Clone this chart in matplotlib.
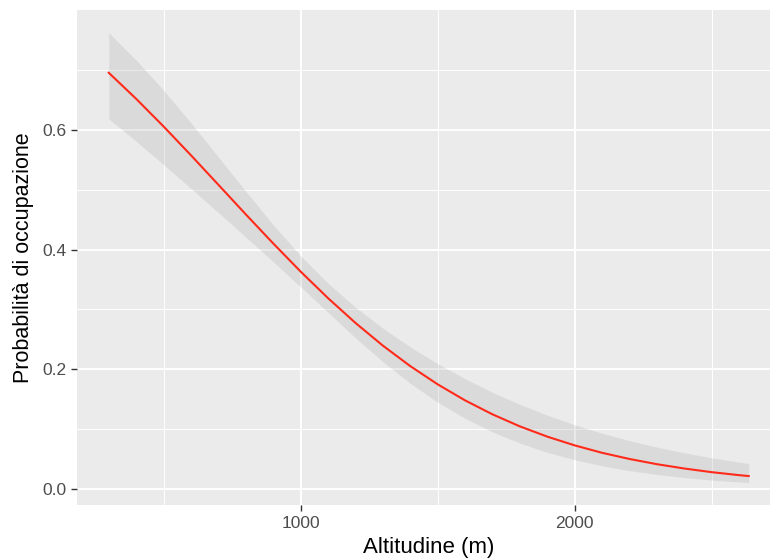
import numpy as np
import matplotlib
matplotlib.use('Agg')
import matplotlib.pyplot as plt
from matplotlib.ticker import MultipleLocator, FormatStrFormatter

plt.rcParams['font.family'] = ['Liberation Sans', 'DejaVu Sans']

# values
altitudine = [300, 400, 500, 600, 700, 800, 900, 1000, 1100, 1200, 1300, 1400,
              1500, 1600, 1700, 1800, 1900, 2000, 2100, 2200, 2300, 2400, 2500,
              2600, 2635]
prob = [0.695, 0.6515, 0.6054, 0.5573, 0.5081, 0.4587, 0.4102, 0.3633, 0.3189,
        0.2776, 0.2397, 0.2055, 0.1751, 0.1483, 0.1250, 0.1049, 0.0878, 0.0732,
        0.0608, 0.0505, 0.0418, 0.0346, 0.0285, 0.0235, 0.0220]
upper = [0.762, 0.7162, 0.6657, 0.6114, 0.5544, 0.4972, 0.4413, 0.3896, 0.3437,
         0.3038, 0.2689, 0.2375, 0.2096, 0.1844, 0.1617, 0.1416, 0.1236, 0.1075,
         0.0935, 0.0811, 0.0702, 0.0607, 0.0524, 0.0452, 0.0429]
lower = [0.618, 0.5807, 0.5417, 0.5018, 0.4617, 0.4208, 0.3797, 0.3378, 0.2951,
         0.2527, 0.2128, 0.1768, 0.1452, 0.1183, 0.0957, 0.0770, 0.0616, 0.0492,
         0.0391, 0.0310, 0.0246, 0.0194, 0.0153, 0.0121, 0.0111]

fig = plt.figure(figsize=(7.7, 5.6), dpi=100)
ax = fig.add_axes([0.0996, 0.098, 0.9144, 0.884])
ax.set_facecolor('#EBEBEB')
for s in ax.spines.values():
    s.set_visible(False)

ax.fill_between(altitudine, lower, upper, color='#999999', alpha=0.2, linewidth=0, zorder=2)
ax.plot(altitudine, prob, color='#FF2A1A', linewidth=1.5, zorder=3)

ax.set_xlim(183, 2752)
ax.set_ylim(-0.0265, 0.7996)
ax.xaxis.set_major_locator(MultipleLocator(1000))
ax.xaxis.set_minor_locator(MultipleLocator(500))
ax.yaxis.set_major_locator(MultipleLocator(0.2))
ax.yaxis.set_minor_locator(MultipleLocator(0.1))
ax.yaxis.set_major_formatter(FormatStrFormatter('%.1f'))

ax.grid(which='major', color='white', linewidth=1.4, zorder=0)
ax.grid(which='minor', color='white', linewidth=0.7, zorder=0)
ax.set_axisbelow(True)
ax.tick_params(which='major', length=4.5, width=1.0, color='#333333',
               labelcolor='#4D4D4D', labelsize=12.5, pad=3)
ax.tick_params(which='minor', length=0)

ax.set_xlabel('Altitudine (m)', fontsize=16, color='black', labelpad=5)
ax.set_ylabel('Probabilità di occupazione', fontsize=15.5, color='black', labelpad=6)

fig.savefig('out.png', dpi=100)
